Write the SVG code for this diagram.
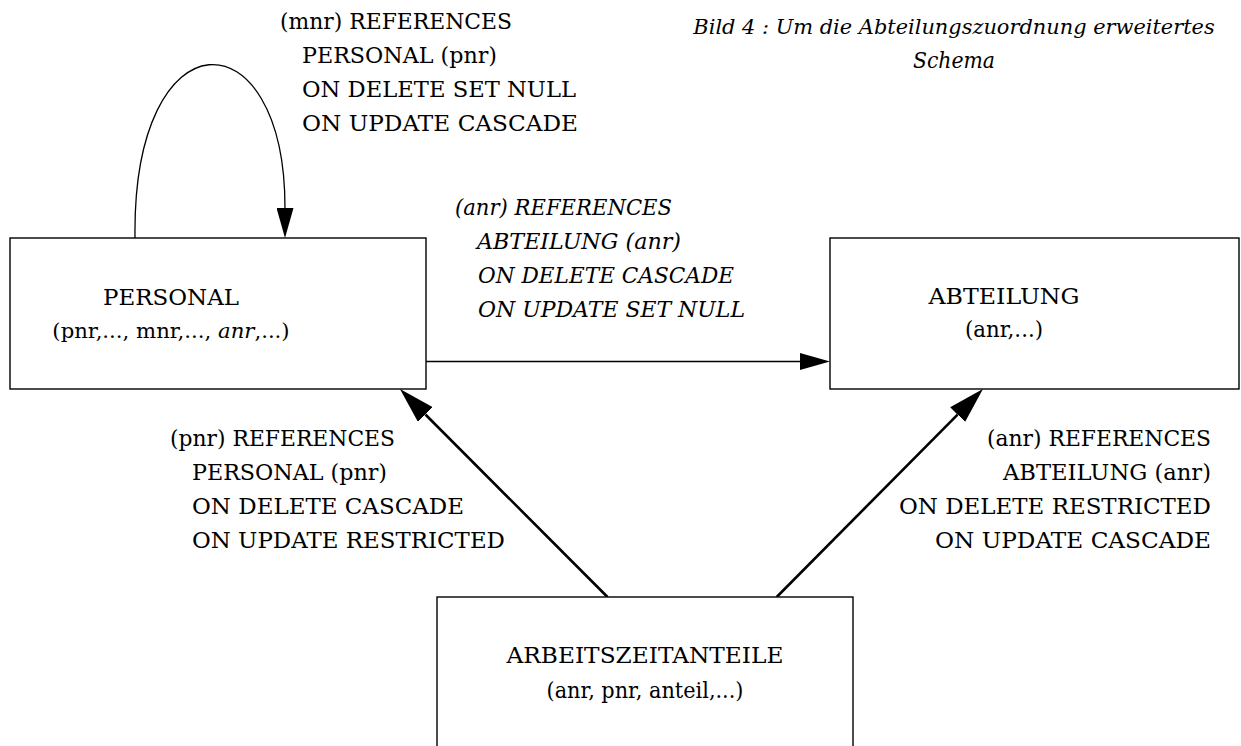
<svg xmlns="http://www.w3.org/2000/svg" width="1241" height="746" viewBox="0 0 1241 746">
  <style>
    text { font-family: 'DejaVu Serif', 'Liberation Serif', serif; font-size: 23px; fill: #000; }
    .it { font-style: italic; }
    .mid { text-anchor: middle; }
    .end { text-anchor: end; }
    .box { fill: #fff; stroke: #000; stroke-width: 1.4; }
    .thin { fill: none; stroke: #000; stroke-width: 1.3; }
    .thick { fill: none; stroke: #000; stroke-width: 2.6; }
  </style>
  <defs>
    <!-- small head for thin connectors; starts at the line end and points forward -->
    <marker id="headThin" viewBox="0 0 30 17" refX="0" refY="8.5" markerWidth="30" markerHeight="17" markerUnits="userSpaceOnUse" orient="auto">
      <path d="M0,0 L30,8.5 L0,17 Z" fill="#000"/>
    </marker>
    <!-- larger head for the heavy connectors -->
    <marker id="headThick" viewBox="0 0 36 21" refX="0" refY="10.5" markerWidth="36" markerHeight="21" markerUnits="userSpaceOnUse" orient="auto">
      <path d="M0,0 L36,10.5 L0,21 Z" fill="#000"/>
    </marker>
  </defs>

  <!-- caption -->
  <g id="caption">
    <text class="it mid" x="954" y="34" style="font-size:20.9px">Bild 4 : Um die Abteilungszuordnung erweitertes</text>
    <text class="it mid" x="954" y="68" textLength="82" lengthAdjust="spacingAndGlyphs">Schema</text>
  </g>

  <!-- connectors -->
  <g id="connectors">
    <!-- self reference mnr -> pnr -->
    <path class="thin" d="M135,238 C132,12 285,12 285,208" marker-end="url(#headThin)"/>
    <!-- PERSONAL -> ABTEILUNG -->
    <path class="thin" d="M426,361.5 L800,361.5" marker-end="url(#headThin)"/>
    <!-- ARBEITSZEITANTEILE -> PERSONAL -->
    <path class="thick" d="M607.5,597 L425.4,414.5" marker-end="url(#headThick)"/>
    <!-- ARBEITSZEITANTEILE -> ABTEILUNG -->
    <path class="thick" d="M776.7,597 L957.6,414.6" marker-end="url(#headThick)"/>
  </g>

  <!-- connector labels -->
  <g id="label-self">
    <text x="280" y="29" textLength="232" lengthAdjust="spacingAndGlyphs">(mnr) REFERENCES</text>
    <text x="302" y="63" textLength="195" lengthAdjust="spacingAndGlyphs">PERSONAL (pnr)</text>
    <text x="302" y="97" textLength="274" lengthAdjust="spacingAndGlyphs">ON DELETE SET NULL</text>
    <text x="302" y="131" textLength="276" lengthAdjust="spacingAndGlyphs">ON UPDATE CASCADE</text>
  </g>
  <g id="label-personal-abteilung">
    <text class="it" x="455" y="215" textLength="217" lengthAdjust="spacingAndGlyphs">(anr) REFERENCES</text>
    <text class="it" x="477" y="249" textLength="204" lengthAdjust="spacingAndGlyphs">ABTEILUNG (anr)</text>
    <text class="it" x="478" y="283" textLength="256" lengthAdjust="spacingAndGlyphs">ON DELETE CASCADE</text>
    <text class="it" x="478" y="317" textLength="267" lengthAdjust="spacingAndGlyphs">ON UPDATE SET NULL</text>
  </g>
  <g id="label-az-personal">
    <text x="170" y="446" textLength="225" lengthAdjust="spacingAndGlyphs">(pnr) REFERENCES</text>
    <text x="192" y="480" textLength="195" lengthAdjust="spacingAndGlyphs">PERSONAL (pnr)</text>
    <text x="192" y="514" textLength="272" lengthAdjust="spacingAndGlyphs">ON DELETE CASCADE</text>
    <text x="192" y="548" textLength="313" lengthAdjust="spacingAndGlyphs">ON UPDATE RESTRICTED</text>
  </g>
  <g id="label-az-abteilung">
    <text class="end" x="1211" y="446" textLength="224" lengthAdjust="spacingAndGlyphs">(anr) REFERENCES</text>
    <text class="end" x="1211" y="480" textLength="208" lengthAdjust="spacingAndGlyphs">ABTEILUNG (anr)</text>
    <text class="end" x="1211" y="514" textLength="312" lengthAdjust="spacingAndGlyphs">ON DELETE RESTRICTED</text>
    <text class="end" x="1211" y="548" textLength="276" lengthAdjust="spacingAndGlyphs">ON UPDATE CASCADE</text>
  </g>

  <!-- nodes -->
  <g id="node-personal">
    <rect class="box" x="10" y="238" width="416" height="151"/>
    <text class="mid" x="171" y="305" textLength="136" lengthAdjust="spacingAndGlyphs">PERSONAL</text>
    <text class="mid" x="171" y="338" style="font-size:21.2px">(pnr,..., mnr,..., <tspan class="it">anr</tspan>,...)</text>
  </g>
  <g id="node-abteilung">
    <rect class="box" x="830" y="238" width="409" height="151"/>
    <text class="mid" x="1004" y="304" textLength="151" lengthAdjust="spacingAndGlyphs">ABTEILUNG</text>
    <text class="mid" x="1004" y="337" textLength="78" lengthAdjust="spacingAndGlyphs">(anr,...)</text>
  </g>
  <g id="node-arbeitszeitanteile">
    <rect class="box" x="437" y="597" width="416" height="200"/>
    <text class="mid" x="645" y="663" textLength="277" lengthAdjust="spacingAndGlyphs">ARBEITSZEITANTEILE</text>
    <text class="mid" x="645" y="698" textLength="197" lengthAdjust="spacingAndGlyphs">(anr, pnr, anteil,...)</text>
  </g>
</svg>
